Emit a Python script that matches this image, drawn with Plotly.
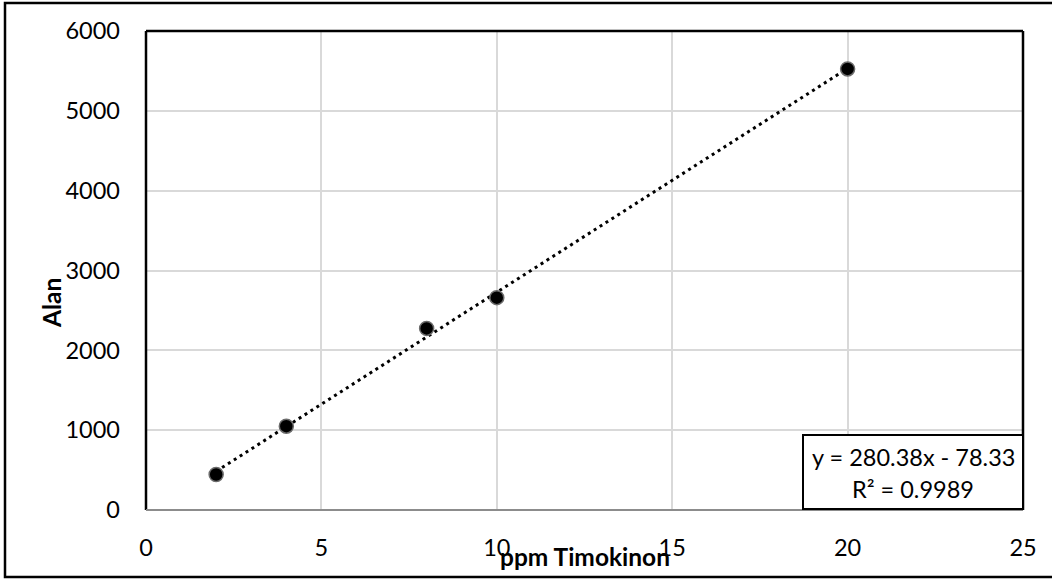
import numpy as np
import plotly.graph_objects as go

# Data
ppm = [2, 4, 8, 10, 20]
alan = [445, 1050, 2275, 2660, 5525]
x_ticks = [0, 5, 10, 15, 20, 25]
y_ticks = [0, 1000, 2000, 3000, 4000, 5000, 6000]
eq_text = "y = 280.38x - 78.33"
r2_text = "R² = 0.9989"
x_title = "ppm Timokinon"
y_title = "Alan"

FONT = "Lato, 'Open Sans', sans-serif"
FS = 23.5
FS_B = 24.5

slope, intercept = np.polyfit(ppm, alan, 1)
trend_x = [min(ppm), max(ppm)]
trend_y = [slope * v + intercept for v in trend_x]

fig = go.Figure()
fig.add_trace(go.Scatter(
    x=trend_x, y=trend_y, mode="lines",
    line=dict(color="black", width=3, dash="3px,4px"),
    hoverinfo="skip", showlegend=False,
))
fig.add_trace(go.Scatter(
    x=ppm, y=alan, mode="markers",
    marker=dict(color="black", size=14, line=dict(color="#6b6b6b", width=1.5)),
    showlegend=False,
))

fig.update_layout(
    width=1052, height=579,
    margin=dict(l=146, r=29, t=31, b=69),
    paper_bgcolor="white", plot_bgcolor="white",
    font=dict(family=FONT, size=FS, color="black"),
    showlegend=False,
    xaxis=dict(
        range=[0, 25], tickvals=x_ticks, showgrid=True, gridcolor="#d9d9d9",
        gridwidth=1.5, zeroline=False, showline=False, ticks="",
        ticklabelstandoff=21, tickfont=dict(size=FS),
    ),
    yaxis=dict(
        range=[0, 6000], tickvals=y_ticks, showgrid=True, gridcolor="#d9d9d9",
        gridwidth=1.5, zeroline=False, showline=False, ticks="",
        ticklabelstandoff=25, tickfont=dict(size=FS),
    ),
)

shapes = []
# plot area frame
shapes.append(dict(type="line", xref="paper", yref="paper", x0=0, x1=0, y0=0, y1=1,
                   line=dict(color="black", width=2.5)))
shapes.append(dict(type="line", xref="paper", yref="paper", x0=0, x1=1, y0=1, y1=1,
                   line=dict(color="black", width=2.5)))
shapes.append(dict(type="line", xref="paper", yref="paper", x0=1, x1=1, y0=0, y1=1,
                   line=dict(color="black", width=2.5)))
shapes.append(dict(type="line", xref="paper", yref="paper", x0=0, x1=1, y0=0, y1=0,
                   line=dict(color="#8c8c8c", width=2)))
# equation box
shapes.append(dict(type="rect", xref="paper", yref="paper",
                   x0=(803 - 146) / 877, x1=1.0, y0=(510 - 509) / 479, y1=(510 - 435) / 479,
                   fillcolor="white", line=dict(color="black", width=2), layer="above"))
# outer chart border (left, top, bottom; right edge beyond picture)
shapes.append(dict(type="rect", xref="paper", yref="paper",
                   x0=(5 - 146) / 877, x1=(1060 - 146) / 877,
                   y0=(510 - 577) / 479, y1=(510 - 3) / 479,
                   line=dict(color="black", width=2.5), layer="above"))
fig.update_layout(shapes=shapes)

ann = []
ann.append(dict(text=eq_text, xref="paper", yref="paper",
                x=(913 - 146) / 877, y=(510 - 457) / 479, showarrow=False,
                xanchor="center", yanchor="middle", font=dict(size=FS, family=FONT)))
ann.append(dict(text=r2_text, xref="paper", yref="paper",
                x=(913 - 146) / 877, y=(510 - 489) / 479, showarrow=False,
                xanchor="center", yanchor="middle", font=dict(size=FS, family=FONT)))
ann.append(dict(text="<b>" + x_title + "</b>", xref="paper", yref="paper",
                x=0.5, y=(510 - 556) / 479, showarrow=False,
                xanchor="center", yanchor="middle", font=dict(size=FS_B, family=FONT)))
ann.append(dict(text="<b>" + y_title + "</b>", xref="paper", yref="paper",
                x=(51 - 146) / 877, y=(510 - 303) / 479, showarrow=False, textangle=-90,
                xanchor="center", yanchor="middle", font=dict(size=FS_B, family=FONT)))
fig.update_layout(annotations=ann)

fig.write_html("out.html")
